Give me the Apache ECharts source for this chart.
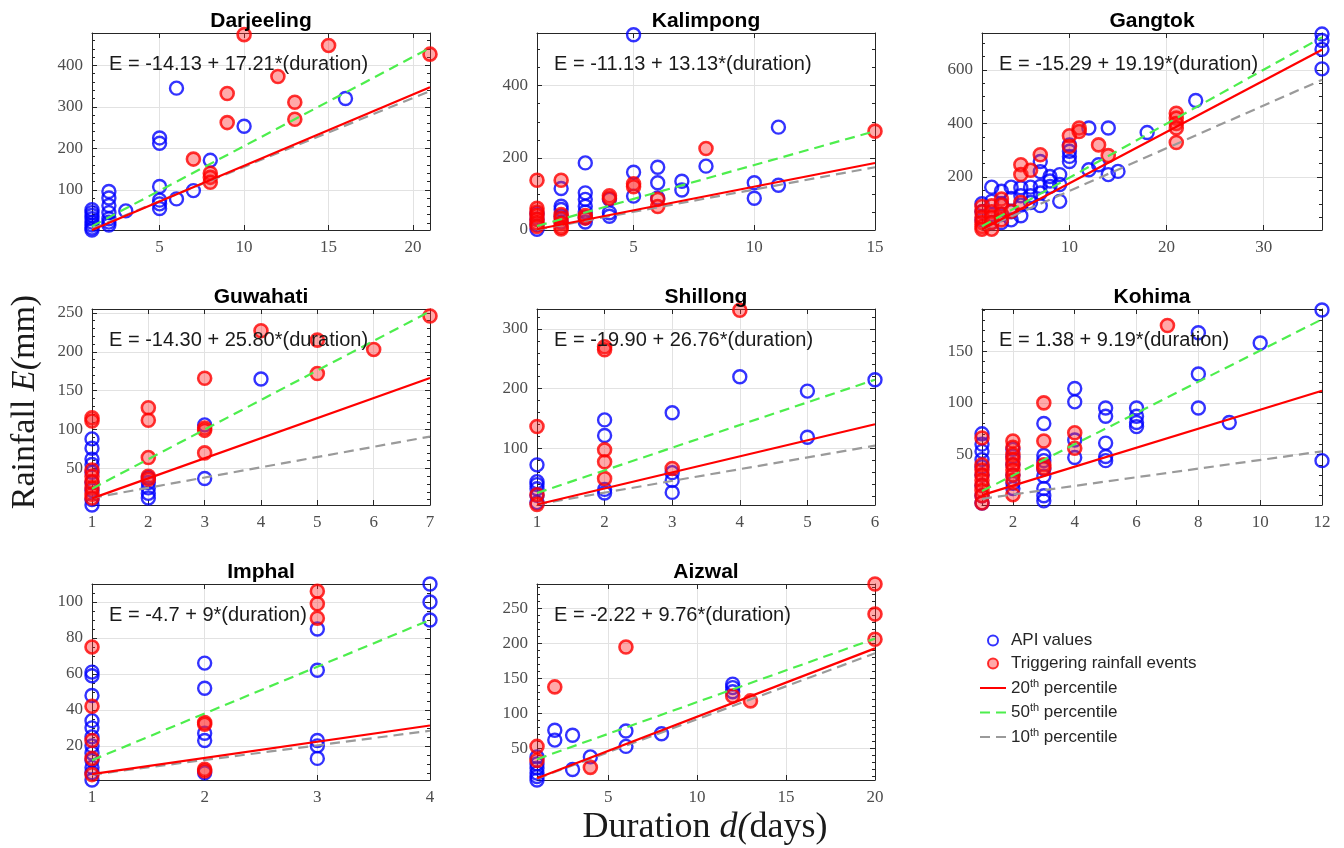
<!DOCTYPE html>
<html><head><meta charset="utf-8">
<script src="https://cdn.jsdelivr.net/npm/echarts@6/dist/echarts.min.js"></script>
<style>html,body{margin:0;padding:0;background:#fff}#c{width:1344px;height:848px}</style>
</head><body><div id="c"></div>
<script>
// ---------------- data ----------------
const stations = ['Darjeeling','Kalimpong','Gangtok','Guwahati','Shillong','Kohima','Imphal','Aizwal'];
const equations = [
  'E = -14.13 + 17.21*(duration)', 'E = -11.13 + 13.13*(duration)', 'E = -15.29 + 19.19*(duration)',
  'E = -14.30 + 25.80*(duration)', 'E = -19.90 + 26.76*(duration)', 'E = 1.38 + 9.19*(duration)',
  'E = -4.7 + 9*(duration)', 'E = -2.22 + 9.76*(duration)'];
const xMin = [1,1,1,1,1,1,1,1];
const xMax = [21,15,36,7,6,12,4,20];
const yMin = [3,0,2,3,6,1,1,5];
const yMax = [478,546,738,255,333,191,110,285];
const xTicks = [[5,10,15,20],[5,10,15],[10,20,30],[1,2,3,4,5,6,7],[1,2,3,4,5,6],[2,4,6,8,10,12],[1,2,3,4],[5,10,15,20]];
const yTicks = [[100,200,300,400],[0,200,400],[200,400,600],[50,100,150,200,250],[100,200,300],[50,100,150],[20,40,60,80,100],[50,100,150,200,250]];

const darjeelingApi = [[1,3],[1,8],[1,15],[1,22],[1,30],[1,38],[1,45],[1,52],[2,96],[2,80],[2,62],[2,45],[2,30],[2,22],[2,15],[3,49],[5,225],[5,212],[5,108],[5,75],[5,66],[5,55],[6,345],[6,78],[7,98],[8,171],[10,253],[16,320]];
const darjeelingEvents = [[7,174],[8,140],[8,130],[8,118],[9,332],[9,262],[10,474],[12,373],[13,311],[13,270],[15,448],[21,427]];
const darjeelingP20 = [[1,3.1],[21,347.3]];
const darjeelingP50 = [[1,12],[21,442]];
const darjeelingP10 = [[1,6],[21,338]];

const kalimpongApi = [[1,2],[1,15],[1,30],[1,45],[2,115],[2,66],[2,57],[2,38],[2,22],[3,186],[3,103],[3,85],[3,66],[3,50],[3,34],[3,22],[4,85],[4,48],[4,38],[5,541],[5,160],[5,94],[6,174],[6,131],[6,89],[7,135],[7,111],[8,177],[10,131],[10,88],[11,285],[11,124]];
const kalimpongEvents = [[1,138],[1,60],[1,50],[1,40],[1,30],[1,20],[1,10],[2,138],[2,43],[2,32],[2,18],[2,8],[2,3],[3,40],[3,33],[4,95],[4,88],[5,128],[5,120],[6,85],[6,65],[8,226],[15,274]];
const kalimpongP20 = [[1,2],[15,185.8]];
const kalimpongP50 = [[1,11],[15,274]];
const kalimpongP10 = [[1,1],[15,174]];

const gangtokApi = [[1,100],[1,70],[1,40],[2,162],[2,109],[2,60],[2,30],[3,147],[3,100],[3,60],[3,30],[4,162],[4,120],[4,70],[4,40],[5,160],[5,130],[5,95],[5,55],[6,162],[6,130],[6,105],[7,258],[7,220],[7,165],[7,140],[7,93],[8,202],[8,185],[8,165],[9,209],[9,172],[9,109],[10,320],[10,296],[10,277],[10,258],[12,383],[12,227],[13,246],[14,383],[14,209],[15,221],[18,366],[23,486],[36,734],[36,710],[36,677],[36,604]];
const gangtokEvents = [[1,90],[1,70],[1,50],[1,30],[1,15],[1,5],[2,92],[2,70],[2,50],[2,30],[2,5],[3,118],[3,95],[3,62],[3,40],[4,72],[5,246],[5,209],[5,105],[6,225],[7,283],[10,354],[10,314],[11,383],[11,370],[13,320],[14,280],[21,438],[21,420],[21,400],[21,383],[21,329]];
const gangtokP20 = [[1,3.9],[36,675.5]];
const gangtokP50 = [[1,16],[36,722]];
const gangtokP10 = [[1,4],[36,563]];

const guwahatiApi = [[1,88],[1,76],[1,62],[1,55],[1,45],[1,32],[1,22],[1,10],[1,3],[2,38],[2,32],[2,25],[2,18],[2,12],[3,106],[3,37],[4,165]];
const guwahatiEvents = [[1,115],[1,111],[1,48],[1,40],[1,33],[1,25],[1,17],[1,12],[2,128],[2,112],[2,64],[2,40],[2,36],[3,166],[3,102],[3,99],[3,70],[4,227],[5,215],[5,172],[6,203],[7,246]];
const guwahatiP20 = [[1,11.5],[7,166.3]];
const guwahatiP50 = [[1,24],[7,252]];
const guwahatiP10 = [[1,12],[7,91]];

const shillongApi = [[1,73],[1,45],[1,40],[1,33],[1,22],[1,10],[2,148],[2,122],[2,32],[2,26],[3,160],[3,60],[3,47],[3,27],[4,220],[5,196],[5,119],[6,215]];
const shillongEvents = [[1,137],[1,23],[1,7],[2,270],[2,265],[2,98],[2,78],[2,50],[3,67],[4,331]];
const shillongP20 = [[1,6.9],[6,140.7]];
const shillongP50 = [[1,26],[6,215]];
const shillongP10 = [[1,7],[6,105]];

const kohimaApi = [[1,70],[1,60],[1,53],[1,45],[1,38],[1,30],[1,20],[1,10],[1,3],[2,55],[2,48],[2,40],[2,30],[2,22],[2,17],[3,80],[3,49],[3,44],[3,36],[3,29],[3,17],[3,10],[3,5],[4,114],[4,101],[4,64],[4,47],[5,95],[5,87],[5,61],[5,48],[5,44],[6,95],[6,87],[6,81],[6,77],[8,168],[8,128],[8,95],[9,81],[10,158],[12,190],[12,44]];
const kohimaEvents = [[1,66],[1,40],[1,35],[1,30],[1,25],[1,20],[1,15],[1,10],[1,3],[2,63],[2,57],[2,50],[2,45],[2,40],[2,35],[2,30],[2,25],[2,11],[3,100],[3,63],[3,40],[3,37],[4,71],[4,56],[7,175]];
const kohimaP20 = [[1,10.6],[12,111.7]];
const kohimaP50 = [[1,14.5],[12,181]];
const kohimaP10 = [[1,7],[12,53]];

const imphalApi = [[1,61],[1,59],[1,48],[1,34],[1,30],[1,25],[1,20],[1,16],[1,12],[1,8],[1,5],[1,1],[2,66],[2,52],[2,27],[2,23],[2,5],[3,85],[3,62],[3,23],[3,20],[3,13],[4,110],[4,100],[4,90]];
const imphalEvents = [[1,75],[1,42],[1,23],[1,13],[1,4],[2,33],[2,32],[2,7],[2,6],[3,106],[3,99],[3,91]];
const imphalP20 = [[1,4.3],[4,31.3]];
const imphalP50 = [[1,12],[4,90]];
const imphalP10 = [[1,4],[4,28.4]];

const aizwalApi = [[1,38],[1,28],[1,22],[1,15],[1,10],[1,5],[2,76],[2,62],[3,69],[3,20],[4,38],[6,75],[6,53],[8,71],[12,142],[12,137],[12,131]];
const aizwalEvents = [[1,53],[1,33],[2,138],[4,23],[6,195],[12,125],[13,118],[20,285],[20,242],[20,206]];
const aizwalP20 = [[1,7.5],[20,193]];
const aizwalP50 = [[1,34.7],[20,207]];
const aizwalP10 = [[1,7],[20,186]];

const apiData = [darjeelingApi,kalimpongApi,gangtokApi,guwahatiApi,shillongApi,kohimaApi,imphalApi,aizwalApi];
const eventData = [darjeelingEvents,kalimpongEvents,gangtokEvents,guwahatiEvents,shillongEvents,kohimaEvents,imphalEvents,aizwalEvents];
const p20Data = [darjeelingP20,kalimpongP20,gangtokP20,guwahatiP20,shillongP20,kohimaP20,imphalP20,aizwalP20];
const p50Data = [darjeelingP50,kalimpongP50,gangtokP50,guwahatiP50,shillongP50,kohimaP50,imphalP50,aizwalP50];
const p10Data = [darjeelingP10,kalimpongP10,gangtokP10,guwahatiP10,shillongP10,kohimaP10,imphalP10,aizwalP10];

// ---------------- layout ----------------
const gridLeft = [92,537,982, 92,537,982, 92,537];
const gridTop  = [33,33,33, 309,309,309, 584,584];
const gridW    = [338,338,340, 338,338,340, 338,338];
const gridH    = [197,197,197, 196,196,196, 196,196];
const minorSplit = [5,4,4,5,5,5,4,5];

const axisColor = '#262626';
const labelFont = {color:'#4d4d4d', fontFamily:'Liberation Serif', fontSize:17};
const colRed = '#ff0000', colGreen = '#4dee4d', colGray = '#9a9a9a';

const grids = [], xAxes = [], yAxes = [], series = [], graphics = [];
stations.forEach((name, i) => {
  grids.push({left:gridLeft[i], top:gridTop[i], width:gridW[i], height:gridH[i], containLabel:false});
  const step = yTicks[i][1]-yTicks[i][0];
  const common = {gridIndex:i, type:'value'};
  xAxes.push(Object.assign({}, common, {
    min:xMin[i], max:xMax[i], position:'bottom',
    axisLine:{show:true, onZero:false, lineStyle:{color:axisColor, width:1}},
    axisTick:{show:true, inside:true, length:5, customValues:xTicks[i], lineStyle:{color:axisColor}},
    axisLabel:Object.assign({customValues:xTicks[i], margin:9}, labelFont),
    splitLine:{show:true, lineStyle:{color:'#e2e2e2', width:1}}
  }));
  xAxes.push(Object.assign({}, common, {
    min:xMin[i], max:xMax[i], position:'top',
    axisLine:{show:true, onZero:false, lineStyle:{color:axisColor, width:1}},
    axisTick:{show:true, inside:true, length:5, customValues:xTicks[i], lineStyle:{color:axisColor}},
    axisLabel:{show:false}, splitLine:{show:false}
  }));
  const yBase = {
    min:yMin[i], max:yMax[i], minInterval:step, maxInterval:step,
    axisLine:{show:true, onZero:false, lineStyle:{color:axisColor, width:1}},
    axisTick:{show:true, inside:true, length:5, customValues:yTicks[i], lineStyle:{color:axisColor}},
    minorTick:{show:true, splitNumber:minorSplit[i], length:3, lineStyle:{color:axisColor}}
  };
  yAxes.push(Object.assign({}, common, yBase, {
    position:'left',
    axisLabel:Object.assign({customValues:yTicks[i], margin:9}, labelFont),
    splitLine:{show:true, lineStyle:{color:'#e2e2e2', width:1}}
  }));
  yAxes.push(Object.assign({}, common, yBase, {
    position:'right', axisLabel:{show:false}, splitLine:{show:false}
  }));
  const xi = 2*i, yi = 2*i;
  series.push({
    name:'API values', type:'scatter', xAxisIndex:xi, yAxisIndex:yi, data:apiData[i],
    symbol:'circle', symbolSize:13, z:2,
    itemStyle:{color:'rgba(255,255,255,0)', borderColor:'#0000ff', borderWidth:2.4}
  });
  series.push({
    name:'Triggering rainfall events', type:'scatter', xAxisIndex:xi, yAxisIndex:yi, data:eventData[i],
    symbol:'circle', symbolSize:13, z:3,
    itemStyle:{color:'rgba(255,40,40,0.5)', borderColor:'#ff0000', borderWidth:2.6}
  });
  series.push({
    name:'10th percentile', type:'line', xAxisIndex:xi, yAxisIndex:yi, data:p10Data[i],
    symbol:'none', z:4, itemStyle:{color:colGray}, lineStyle:{color:colGray, width:2.2, type:[10,6]}
  });
  series.push({
    name:'50th percentile', type:'line', xAxisIndex:xi, yAxisIndex:yi, data:p50Data[i],
    symbol:'none', z:5, itemStyle:{color:colGreen}, lineStyle:{color:colGreen, width:2.2, type:[10,6]}
  });
  series.push({
    name:'20th percentile', type:'line', xAxisIndex:xi, yAxisIndex:yi, data:p20Data[i],
    symbol:'none', z:6, itemStyle:{color:colRed}, lineStyle:{color:colRed, width:2.2}
  });
  graphics.push({
    type:'text', x:gridLeft[i]+gridW[i]/2, y:gridTop[i]-12, z:10,
    style:{text:name, fill:'#000', fontFamily:'Liberation Sans', fontWeight:'bold', fontSize:21,
      align:'center', verticalAlign:'middle', textAlign:'center', textVerticalAlign:'middle'}
  });
  graphics.push({
    type:'text', x:gridLeft[i]+17, y:gridTop[i]+31, z:10,
    style:{text:equations[i], fill:'#1a1a1a', fontFamily:'Liberation Sans', fontSize:20,
      align:'left', verticalAlign:'middle', textAlign:'left', textVerticalAlign:'middle'}
  });
});

const serif = 'Liberation Serif';
graphics.push({
  type:'text', x:25, y:402, rotation:Math.PI/2, z:10,
  style:{text:'Rainfall {i|E(}mm)', fill:'#1a1a1a', fontFamily:serif, fontSize:34,
    align:'center', verticalAlign:'middle', textAlign:'center', textVerticalAlign:'middle',
    rich:{i:{fontFamily:serif, fontSize:34, fontStyle:'italic', fill:'#1a1a1a'}}}
});
graphics.push({
  type:'text', x:705, y:828, z:10,
  style:{text:'Duration {i|d(}days)', fill:'#1a1a1a', fontFamily:serif, fontSize:36,
    align:'center', verticalAlign:'middle', textAlign:'center', textVerticalAlign:'middle',
    rich:{i:{fontFamily:serif, fontSize:36, fontStyle:'italic', fill:'#1a1a1a'}}}
});

const option = {
  animation:false,
  backgroundColor:'#ffffff',
  grid:grids, xAxis:xAxes, yAxis:yAxes, series:series, graphic:graphics,
  legend:{
    orient:'vertical', left:974, top:627, itemWidth:26, itemHeight:10, itemGap:6,
    selectedMode:false,
    data:[
      {name:'API values', icon:'circle'},
      {name:'Triggering rainfall events', icon:'circle'},
      {name:'20th percentile', itemStyle:{opacity:0}},
      {name:'50th percentile', itemStyle:{opacity:0}},
      {name:'10th percentile', itemStyle:{opacity:0}}
    ],
    formatter:function(n){
      const m = n.match(/^(\d+)th (.*)$/);
      return m ? m[1] + '{sup|th} ' + m[2] : n;
    },
    textStyle:{fontFamily:'Liberation Sans', fontSize:17, color:'#262626',
      rich:{sup:{fontFamily:'Liberation Sans', fontSize:11, color:'#262626', padding:[0,0,9,0]}}}
  }
};
const chart = echarts.init(document.getElementById('c'), null, {renderer:'canvas'});
chart.setOption(option);
</script></body></html>
